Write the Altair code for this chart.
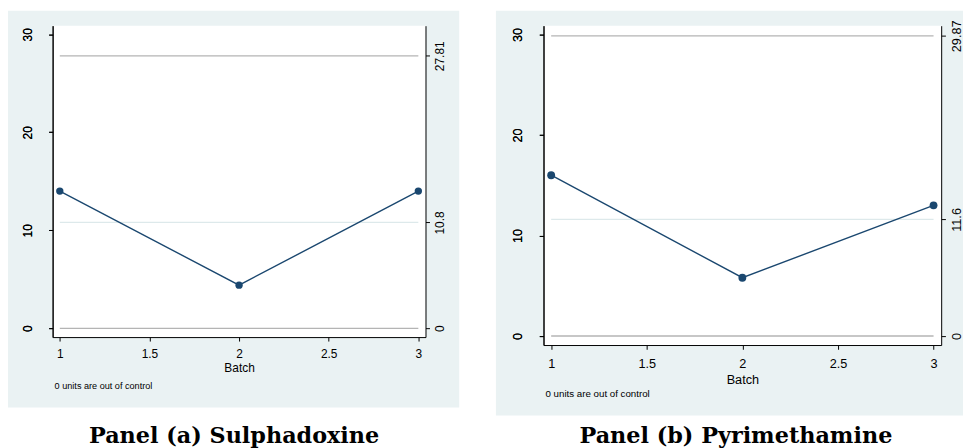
import altair as alt
import pandas as pd

batches = [1, 2, 3]
sulphadoxine = [14.0, 4.4, 14.0]
pyrimethamine = [16.0, 5.8, 13.0]
limits_a = [0.0, 10.8, 27.81]   # LCL, CL, UCL
limits_b = [0.0, 11.6, 29.87]
limit_kind = ["lcl", "cl", "ucl"]
x_ticks = [1, 1.5, 2, 2.5, 3]
y_ticks = [0, 10, 20, 30]
panel_titles = ["Panel (a) Sulphadoxine", "Panel (b) Pyrimethamine"]
note_text = "0 units are out of control"
x_title = "Batch"

BG = "#eaf2f3"
NAVY = "#1a476f"
X_DOMAIN = [0.96, 3.04]
Y_DOMAIN = [-0.9, 30.88]


def panel(values, limits, title, w, h, s, bg_box, title_pos, note_pos):
    one = pd.DataFrame({"k": [0]})
    bl, br, bt, bb = bg_box
    bg = alt.Chart(one).mark_rect(color=BG).encode(
        x=alt.value(bl), x2=alt.value(w + br), y=alt.value(bt), y2=alt.value(h + bb)
    )
    white = alt.Chart(one).mark_rect(color="white").encode(
        x=alt.value(0), x2=alt.value(w), y=alt.value(0), y2=alt.value(h)
    )
    fs = 12 * s
    yscale = alt.Scale(domain=Y_DOMAIN, nice=False, zero=False)
    xscale = alt.Scale(domain=X_DOMAIN, nice=False, zero=False)
    xaxis = alt.Axis(
        values=x_ticks, format="~g", title=x_title, grid=False, tickSize=4 * s,
        labelPadding=8 * s, titlePadding=3, labelFontSize=fs, titleFontSize=fs,
        labelFont="Liberation Sans", titleFont="Liberation Sans",
        titleFontWeight="normal", labelColor="#000", titleColor="#000",
        tickColor="#000", domainColor="#000", zindex=1, labelFlush=False)
    lim = pd.DataFrame({"batch": [batches[0]] * 3, "x2": [batches[-1]] * 3,
                        "y": limits, "kind": limit_kind})
    rules = alt.Chart(lim).mark_rule(strokeWidth=1.3).encode(
        x=alt.X("batch:Q", scale=xscale, axis=xaxis),
        x2="x2:Q",
        y=alt.Y("y:Q", scale=yscale, axis=alt.Axis(
            orient="right", values=limits, title=None, grid=False,
            labelAngle=270, labelAlign="center", labelBaseline="top",
            labelPadding=5 * s, tickSize=4 * s, labelFontSize=fs,
            labelFont="Liberation Sans", labelColor="#000", tickColor="#000",
            domainColor="#000",
            labelExpr="datum.value == 0 ? '0' : format(datum.value, '.4~f')",
            zindex=1, labelOverlap=False)),
        color=alt.Color("kind:N", scale=alt.Scale(domain=limit_kind,
                        range=["#b4b4b4", "#dde9eb", "#b4b4b4"]), legend=None),
    )
    df = pd.DataFrame({"batch": batches, "v": values})
    base = alt.Chart(df).encode(
        x=alt.X("batch:Q", scale=xscale, axis=xaxis),
        y=alt.Y("v:Q", scale=yscale, axis=alt.Axis(
            values=y_ticks, title=None, grid=False, labelAngle=270,
            labelAlign="center", labelBaseline="bottom", labelPadding=14 * s,
            tickSize=4 * s, labelFontSize=fs, labelFont="Liberation Sans",
            labelColor="#000", tickColor="#000", domainColor="#000", zindex=1)),
    )
    line = base.mark_line(color=NAVY, strokeWidth=1.4)
    pts = base.mark_circle(color=NAVY, size=55 * s * s, opacity=1)
    tx, ty = title_pos
    ttl = alt.Chart(one).mark_text(
        text=title, font="DejaVu Serif", fontWeight="bold", fontSize=22.5,
        align="center", baseline="alphabetic", color="#000"
    ).encode(x=alt.value(tx), y=alt.value(ty))
    nx, ny = note_pos
    note = alt.Chart(one).mark_text(
        text=note_text, font="Liberation Sans", fontSize=9.2 * s,
        align="left", baseline="alphabetic", color="#000"
    ).encode(x=alt.value(nx), y=alt.value(ny))
    return alt.layer(bg, white, rules, line, pts, note, ttl).resolve_scale(
        y="independent").properties(width=w, height=h)


pa = panel(sulphadoxine, limits_a, panel_titles[0], 376, 314, 1.0,
           (-45, 34, -15, 71), (183, 421), (2, 366))
pb = panel(pyrimethamine, limits_b, panel_titles[1], 401, 322, 1.066,
           (-48, 22, -15, 71), (194, 421), (2, 374))

chart = alt.hconcat(pa, pb, spacing=119, bounds="flush").properties(
    padding={"left": 0, "top": 1, "right": 0, "bottom": 0}, background="white"
).configure_view(strokeWidth=0)

chart.save("out.html", embed_options={"renderer": "svg", "actions": False})
